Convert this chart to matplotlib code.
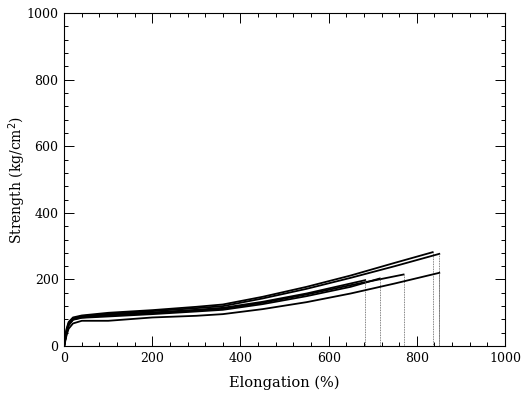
import numpy as np
import matplotlib
matplotlib.use("Agg")
import matplotlib.pyplot as plt
from matplotlib.ticker import MultipleLocator

plt.rcParams['font.family'] = ['DejaVu Serif']

# strain-stress curves (elongation %, strength kg/cm2)
x_a = [0, 5, 10, 20, 40, 100, 200, 300, 360, 450, 550, 650, 750, 836]
y_a = [0, 50, 72, 86, 92, 100, 108, 118, 125, 148, 178, 212, 250, 282]

x_b = [0, 5, 10, 20, 40, 100, 200, 300, 360, 450, 550, 650, 750, 851]
y_b = [0, 45, 68, 83, 90, 97, 105, 114, 120, 143, 172, 205, 240, 277]

x_c = [0, 5, 10, 20, 40, 100, 200, 300, 360, 450, 550, 650, 770]
y_c = [0, 40, 62, 80, 86, 92, 99, 107, 112, 130, 155, 183, 215]

x_d = [0, 5, 10, 20, 40, 100, 200, 300, 360, 450, 550, 650, 716]
y_d = [0, 40, 63, 79, 85, 89, 96, 104, 109, 126, 150, 178, 203]

x_e = [0, 5, 10, 20, 40, 100, 200, 300, 360, 450, 550, 683]
y_e = [0, 42, 65, 81, 88, 95, 101, 109, 115, 133, 158, 198]

x_f = [0, 5, 10, 20, 40, 100, 200, 300, 360, 450, 550, 650, 750, 851]
y_f = [0, 30, 52, 68, 76, 76, 86, 91, 96, 111, 132, 158, 188, 220]

curves = [(x_a, y_a), (x_b, y_b), (x_c, y_c), (x_d, y_d), (x_e, y_e), (x_f, y_f)]

fig = plt.figure(figsize=(5.26, 3.96), dpi=100)
ax = fig.add_axes([0.122, 0.126, 0.838, 0.841])

for xs, ys in curves:
    ax.plot(xs, ys, color='black', lw=1.3)
    # break: specimen fails, load drops to zero
    ax.plot([xs[-1], xs[-1]], [ys[-1], 0], color='0.35', lw=0.6, ls=(0, (1, 1)))

ax.set_xlim(0, 1000)
ax.set_ylim(0, 1000)
ax.xaxis.set_major_locator(MultipleLocator(200))
ax.xaxis.set_minor_locator(MultipleLocator(40))
ax.yaxis.set_major_locator(MultipleLocator(200))
ax.yaxis.set_minor_locator(MultipleLocator(40))
ax.tick_params(which='both', direction='in', top=True, right=True, width=0.7,
               labelsize=9, pad=4)
ax.tick_params(which='major', length=7)
ax.tick_params(which='minor', length=3)
for s in ax.spines.values():
    s.set_linewidth(0.8)

ax.set_xlabel('Elongation (%)', fontsize=10.5, labelpad=8)
ax.set_ylabel('Strength (kg/cm$^2$)', fontsize=10)
ax.yaxis.set_label_coords(-0.082, 0.5)

fig.savefig('out.png', dpi=100)
